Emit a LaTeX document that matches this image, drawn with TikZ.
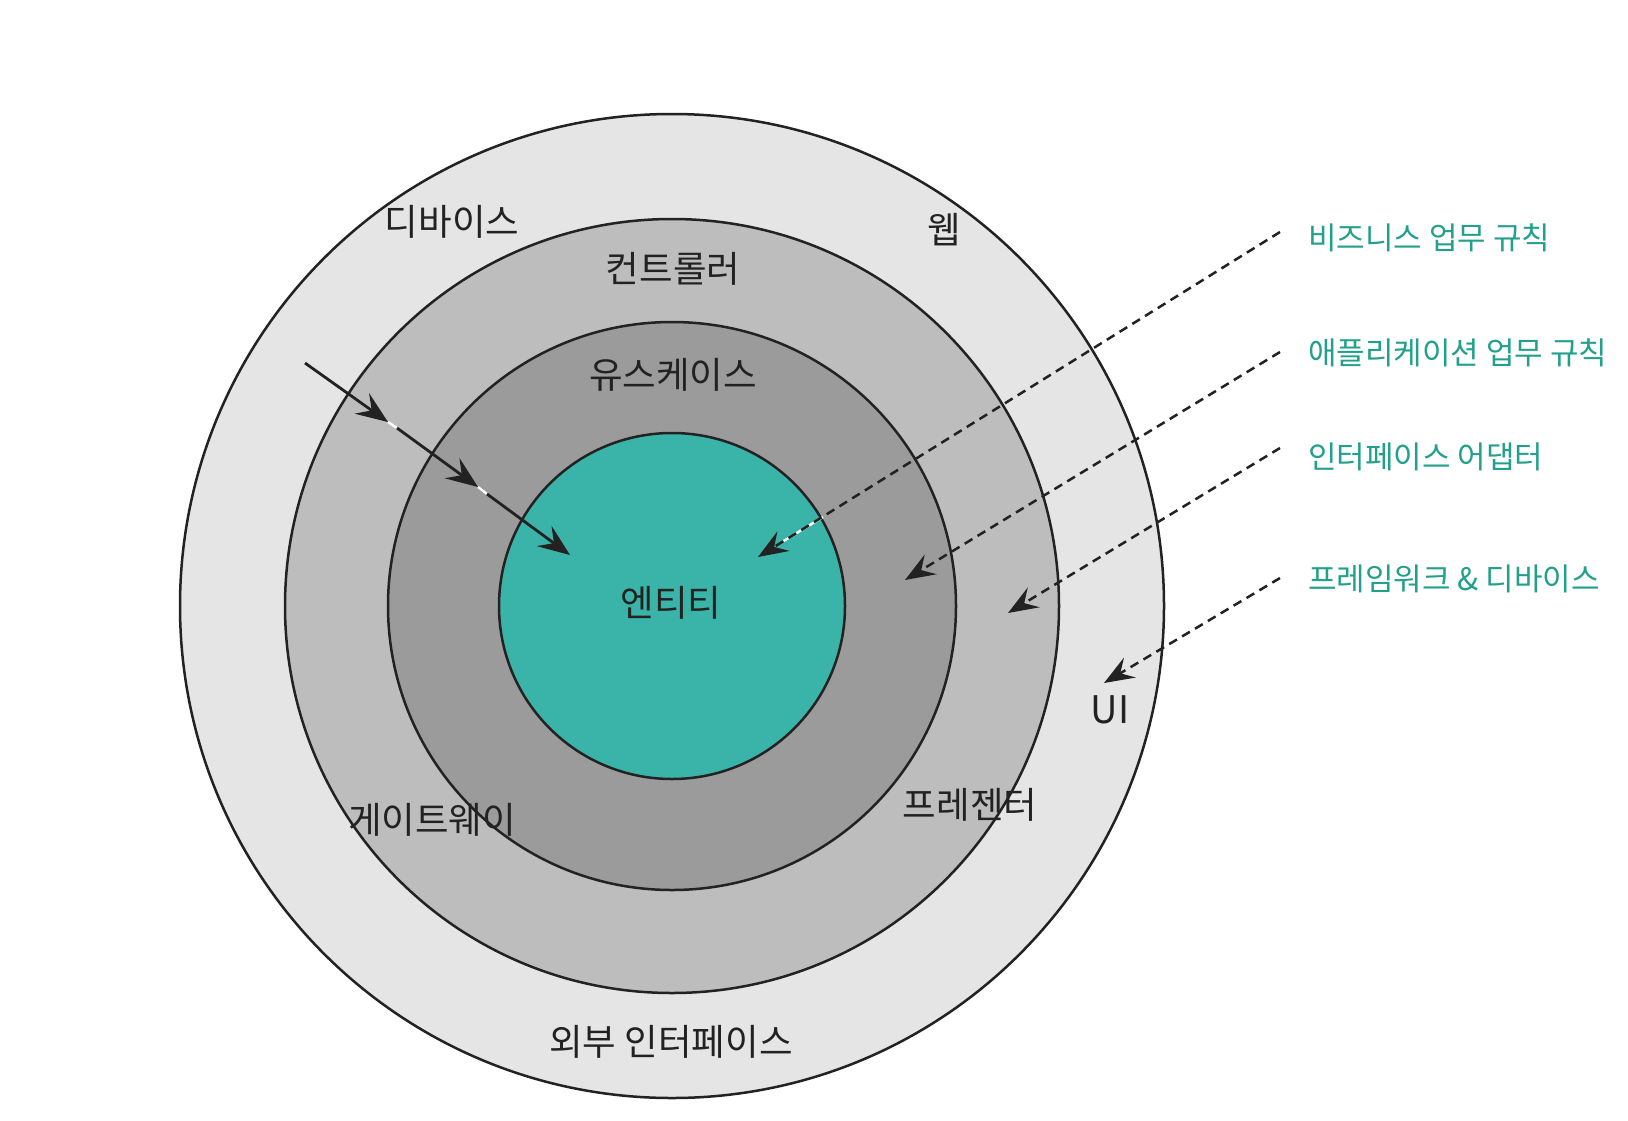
\documentclass[tikz,border=0pt]{standalone}
\usepackage{fontspec}
\setmainfont{Noto Sans CJK KR}
\usetikzlibrary{arrows.meta}
\definecolor{ringA}{HTML}{E5E5E5}
\definecolor{ringB}{HTML}{BDBDBD}
\definecolor{ringC}{HTML}{9B9B9B}
\definecolor{core}{HTML}{3AB4A9}
\definecolor{tealtext}{HTML}{22A08C}
\definecolor{ink}{HTML}{222222}
\begin{document}
\begin{tikzpicture}[x=1pt,y=-1pt,
  ring/.style={circle, draw=ink, line width=2.5pt, inner sep=0pt, minimum size=#1},
  lab/.style={font=\fontsize{36.5}{40}\selectfont, text=ink, inner sep=0pt},
  side/.style={font=\fontsize{31}{34}\selectfont, text=tealtext, anchor=west, inner sep=0pt},
  solidarrow/.style={line width=2.8pt, draw=ink, -{Stealth[length=32pt,width=25pt,inset=12pt]}},
  dasharrow/.style={line width=2.5pt, draw=ink, dash pattern=on 9pt off 6pt, -{Stealth[length=30pt,width=23pt,inset=11pt]}},
  gapline/.style={line width=2.4pt, draw=white}]
\useasboundingbox (0,0) rectangle (1628,1120);
\fill[white] (0,0) rectangle (1628,1120);
% rings
\node[ring=984pt, fill=ringA] (outer) at (672,606) {};
\node[ring=774pt, fill=ringB] (adapter) at (672,606) {};
\node[ring=568pt, fill=ringC] (usecase) at (672,606) {};
\node[ring=346pt, fill=core] (core) at (672,606) {};
% ring labels
\node[lab] (device) at (452,222) {디바이스};
\node[lab] (web) at (944,230) {웹};
\node[lab] (ctrl) at (673,269) {컨트롤러};
\node[lab] (uc) at (673,375) {유스케이스};
\node[lab] (ent) at (671,603) {엔티티};
\node[lab] (gw) at (432,820) {게이트웨이};
\node[lab] (pres) at (970,805) {프레젠터};
\node[lab, font=\fontsize{38}{40}\selectfont] (ui) at (1110,710) {UI};
\node[lab] (ext) at (671,1042) {외부 인터페이스};
% legend labels
\node[side] (l1) at (1308,238) {비즈니스 업무 규칙};
\node[side] (l2) at (1308,353) {애플리케이션 업무 규칙};
\node[side] (l3) at (1308,457) {인터페이스 어댑터};
\node[side] (l4) at (1308,579) {프레임워크 \& 디바이스};
% solid dependency arrow
\coordinate (s0) at (305,363);
\coordinate (s1) at (388,422);
\coordinate (s1b) at (397,428);
\coordinate (s2) at (478,487);
\coordinate (s2b) at (487,494);
\coordinate (s3) at (570,555);
\draw[gapline] (s1) -- (s1b);
\draw[gapline] (s2) -- (s2b);
\draw[solidarrow] (s0) -- (s1);
\draw[solidarrow] (s1b) -- (s2);
\draw[solidarrow] (s2b) -- (s3);
% dashed legend arrows
\coordinate (d1s) at (1280,232);
\coordinate (d1e) at (758,557);
\coordinate (d1w) at (823,517);
\coordinate (d1x) at (782,542);
\coordinate (d2s) at (1280,352);
\coordinate (d2e) at (905,580);
\coordinate (d3s) at (1280,448);
\coordinate (d3e) at (1008,613);
\coordinate (d4s) at (1280,578);
\coordinate (d4e) at (1104,683);
\draw[gapline] (d1w) -- (d1x);
\draw[dasharrow] (d1s) -- (d1e);
\draw[dasharrow] (d2s) -- (d2e);
\draw[dasharrow] (d3s) -- (d3e);
\draw[dasharrow] (d4s) -- (d4e);
\end{tikzpicture}
\end{document}
